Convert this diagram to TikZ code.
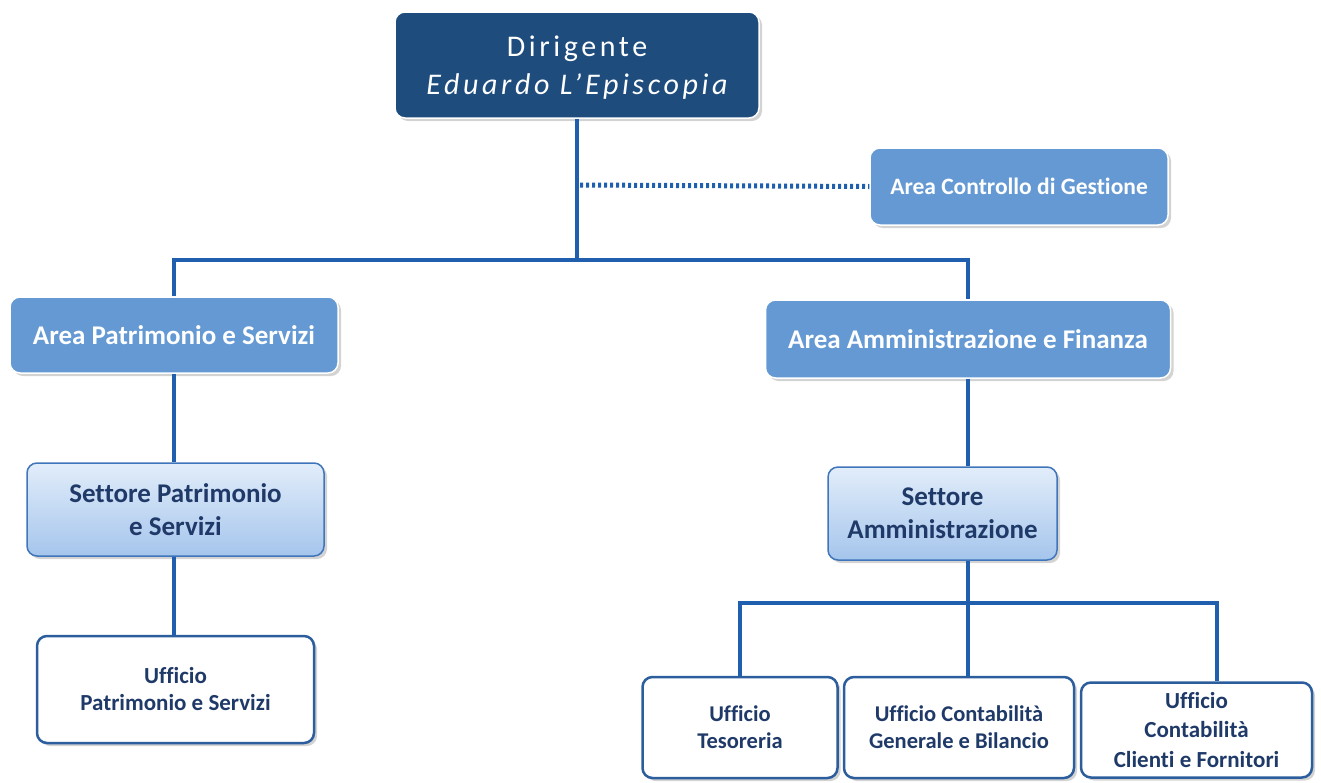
\documentclass[tikz,border=0pt]{standalone}
\usepackage{fontspec}
\setmainfont[Ligatures=NoCommon]{Carlito}
\newfontfamily\headfont[LetterSpace=12,Ligatures=NoCommon]{Carlito}
\usetikzlibrary{shadows}
\definecolor{navy}{HTML}{1D4C7D}
\definecolor{areablue}{HTML}{6499D3}
\definecolor{settop}{HTML}{E2EDFA}
\definecolor{setbot}{HTML}{A5C5EC}
\definecolor{setedge}{HTML}{3F75BA}
\definecolor{ufedge}{HTML}{2C5E9E}
\definecolor{linkblue}{HTML}{1F5FAE}
\definecolor{inktext}{HTML}{1F3A68}
\tikzset{
  boxbase/.style={rectangle, rounded corners=10pt, align=center, inner sep=0pt,
    drop shadow={shadow xshift=3pt, shadow yshift=-3pt, opacity=0.35, fill=gray}},
  headbox/.style={boxbase, fill=navy, draw=white, line width=1.5pt},
  headtext/.style={align=center, inner sep=0pt, text=white,
    font=\headfont\fontsize{30}{38}\selectfont},
  areabox/.style={boxbase, fill=areablue, draw=white, line width=1.5pt, text=white,
    font=\bfseries\fontsize{27}{32}\selectfont},
  setbox/.style={boxbase, top color=settop, bottom color=setbot, draw=setedge,
    line width=1.5pt, text=inktext, font=\bfseries\fontsize{27}{33}\selectfont},
  ufbox/.style={boxbase, fill=white, draw=ufedge, line width=2.5pt, text=inktext,
    font=\bfseries\fontsize{22.5}{27}\selectfont},
  link/.style={draw=linkblue, line width=4.5pt},
  dotlink/.style={draw=linkblue, line width=5pt, dash pattern=on 3pt off 3pt}
}
\begin{document}
\begin{tikzpicture}[x=1pt, y=-1pt]
\useasboundingbox (0,0) rectangle (1321,782);
% junction points of the tree
\coordinate (top) at (577,260);
\coordinate (dstart) at (580,185);
\coordinate (bl) at (740,603);
\coordinate (bm) at (968,603);
\coordinate (br) at (1217,603);

% boxes
\node[headbox, minimum width=364pt, minimum height=106pt] (dir) at (577,65) {};
\node[headtext] (dirname) at ([yshift=-3pt]dir.center)
  {Dirigente\\\itshape Eduardo L’Episcopia};
\node[areabox, minimum width=298pt, minimum height=77pt,
  font=\bfseries\fontsize{23.5}{28}\selectfont] (ctrl) at (1019,186.5)
  {Area Controllo di Gestione};
\node[areabox, minimum width=328pt, minimum height=76pt] (apat) at (174,335)
  {Area Patrimonio e Servizi};
\node[areabox, minimum width=405pt, minimum height=78pt] (aamm) at (968,339)
  {Area Amministrazione e Finanza};
\node[setbox, minimum width=297pt, minimum height=93pt] (spat) at (175.5,509.5)
  {Settore Patrimonio\\e Servizi};
\node[setbox, minimum width=229pt, minimum height=93pt] (samm) at (942.5,513.5)
  {Settore\\Amministrazione};
\node[ufbox, minimum width=277pt, minimum height=107pt,
  font=\bfseries\fontsize{23}{27}\selectfont] (upat) at (175.5,689.5)
  {Ufficio\\Patrimonio e Servizi};
\node[ufbox, minimum width=195pt, minimum height=101pt] (utes) at (740,727.5)
  {Ufficio\\Tesoreria};
\node[ufbox, minimum width=230pt, minimum height=101pt] (ucon) at (959,727.5)
  {Ufficio Contabilità\\Generale e Bilancio};
\node[ufbox, minimum width=231pt, minimum height=95pt,
  font=\bfseries\fontsize{23}{29.5}\selectfont] (ucli) at (1196.5,730)
  {Ufficio\\Contabilità\\Clienti e Fornitori};

% tree lines
\path[link] (dir.south -| top) -- (top);
\path[link] (apat.north) -- (apat.north |- top) -- (aamm.north |- top) -- (aamm.north);
\path[dotlink] (dstart) -- (ctrl.west);
\path[link] (apat.south) -- (apat.south |- spat.north);
\path[link] (apat.south |- spat.south) -- (apat.south |- upat.north);
\path[link] (aamm.south) -- (aamm.south |- samm.north);
\path[link] (aamm.south |- samm.south) -- (bm);
\path[link] (bl |- utes.north) -- (bl) -- (br) -- (br |- ucli.north);
\path[link] (bm) -- (bm |- ucon.north);
\end{tikzpicture}
\end{document}
